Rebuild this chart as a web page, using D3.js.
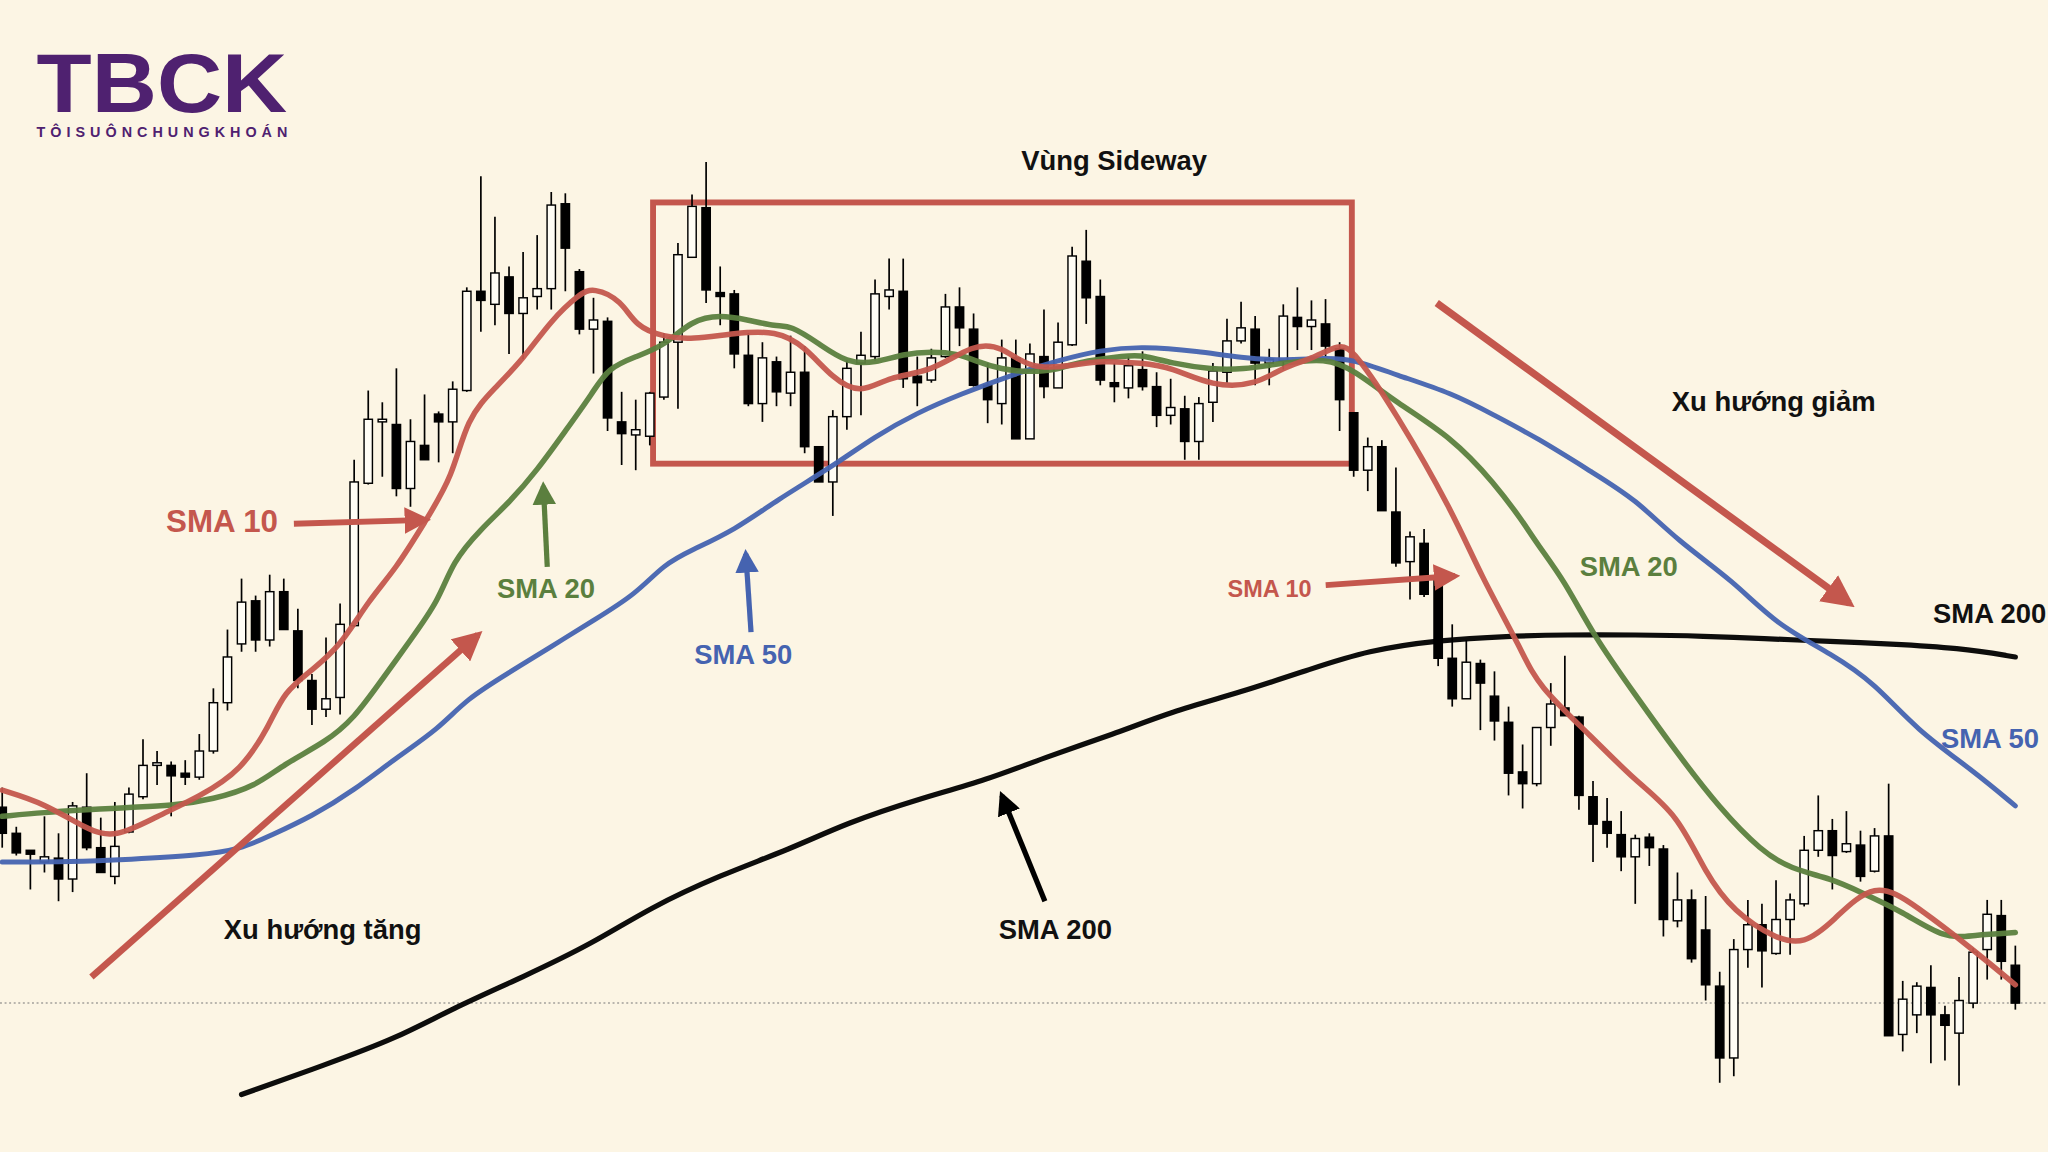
<!DOCTYPE html>
<html>
<head>
<meta charset="utf-8">
<script src="https://cdn.jsdelivr.net/npm/d3@7"></script>
<style>
  html, body { margin: 0; padding: 0; background: #fcf5e4; }
  svg { display: block; }
  text { font-family: "Liberation Sans", Arial, sans-serif; font-weight: bold; }
</style>
</head>
<body>
<script>
// candles: [open, high, low, close]
const candles = [
  [28.2,29.7,25.1,26.2],[26.2,26.7,24.5,24.7],[24.9,24.9,21.9,24.6],[24.0,27.5,23.2,24.4],
  [24.3,26.2,21.0,22.7],[22.7,28.6,21.7,28.3],[28.2,30.8,24.9,25.1],[25.1,27.4,23.2,23.2],
  [22.9,28.6,22.3,25.2],[26.3,29.7,26.2,29.2],[29.0,33.4,28.8,31.4],[31.4,32.5,29.9,31.6],
  [31.4,31.7,27.5,30.6],[30.8,31.8,29.9,30.5],[30.5,33.8,30.3,32.5],[32.5,37.3,32.3,36.2],
  [36.2,41.8,35.6,39.7],[40.7,45.7,40.1,43.9],[44.0,44.4,40.1,41.0],[41.0,46.0,40.5,44.7],
  [44.7,45.7,41.8,41.8],[41.7,43.4,37.3,37.9],[37.9,38.4,34.5,35.7],[35.7,41.2,35.1,36.5],
  [36.6,43.8,35.3,42.2],[42.1,54.8,42.0,53.1],[53.0,60.1,52.9,57.9],[57.7,59.2,53.5,57.9],
  [57.5,61.8,52.0,52.6],[52.6,57.9,51.2,56.2],[55.9,59.8,54.8,54.8],[58.3,58.5,54.6,57.7],
  [57.7,60.8,55.3,60.2],[60.1,68.0,60.0,67.7],[67.7,76.5,64.6,67.0],[66.7,73.4,65.1,69.1],
  [68.8,69.6,62.9,66.0],[66.0,70.7,62.5,67.2],[67.3,72.0,66.3,67.9],[67.9,75.3,66.3,74.3],
  [74.4,75.2,67.7,71.0],[69.2,69.4,64.4,64.8],[64.8,67.2,61.4,65.5],[65.4,65.7,57.0,58.0],
  [57.7,60.0,54.4,56.8],[56.7,59.4,54.0,57.1],[56.6,60.0,55.9,59.9],[59.6,64.5,59.4,63.8],
  [63.8,71.4,58.7,70.5],[70.3,75.1,70.3,74.2],[74.1,77.6,66.8,67.8],[67.6,69.6,65.1,67.3],
  [67.5,67.8,61.8,62.9],[62.8,64.5,58.9,59.1],[59.1,63.8,57.7,62.6],[62.3,62.7,58.9,60.0],
  [59.9,64.3,58.9,61.5],[61.5,63.5,55.3,55.8],[55.8,55.8,53.1,53.1],[53.1,58.6,50.5,58.1],
  [58.1,62.4,57.1,61.8],[62.2,64.6,58.2,62.8],[62.7,68.6,62.4,67.5],[67.3,70.2,66.3,67.8],
  [67.7,70.2,60.3,61.0],[61.2,62.7,58.9,60.7],[60.9,63.3,60.7,62.6],[62.7,67.5,62.6,66.5],
  [66.5,68.0,63.5,64.9],[64.8,66.0,60.4,60.5],[60.5,62.2,57.6,59.4],[59.1,64.0,57.5,62.6],
  [62.6,64.0,56.4,56.4],[56.4,63.7,56.4,62.9],[62.7,66.3,59.5,60.4],[60.3,65.3,60.3,63.8],
  [63.6,71.1,63.5,70.4],[70.0,72.4,65.2,67.2],[67.3,68.6,60.5,60.9],[60.7,62.2,59.2,60.4],
  [60.3,62.7,59.5,62.0],[61.7,63.1,60.1,60.4],[60.4,61.5,57.3,58.2],[58.2,61.0,57.5,58.8],
  [58.7,59.7,54.8,56.2],[56.2,59.6,54.8,59.1],[59.2,62.2,57.7,61.6],[61.5,65.6,60.7,63.9],
  [63.9,66.9,63.7,64.9],[64.8,65.8,60.5,62.2],[62.2,63.3,60.5,62.5],[62.4,66.7,61.7,65.8],
  [65.7,68.0,63.2,65.0],[65.0,67.0,63.2,65.5],[65.2,67.1,62.7,63.5],[63.3,63.8,57.0,59.4],
  [58.4,58.4,53.5,54.0],[54.0,56.5,52.4,55.8],[55.8,56.3,50.9,50.9],[50.8,54.2,46.6,46.9],
  [47.0,49.3,44.1,48.9],[48.4,49.5,44.3,44.5],[45.9,46.2,39.0,39.6],[39.6,42.2,35.9,36.5],
  [36.5,41.0,36.5,39.3],[39.2,39.5,34.1,37.7],[36.7,38.6,33.3,34.8],[34.7,35.9,29.1,30.8],
  [30.9,33.0,28.1,30.0],[30.0,34.3,29.8,34.3],[34.3,37.7,32.9,36.1],[35.8,39.8,35.2,35.2],
  [35.1,35.2,28.0,29.1],[29.0,30.2,24.0,26.9],[27.1,28.9,25.1,26.2],[26.1,27.9,23.3,24.4],
  [24.4,26.1,20.8,25.8],[25.9,26.2,23.7,25.1],[25.0,25.3,18.3,19.6],[19.5,23.2,19.0,21.1],
  [21.1,21.9,16.3,16.6],[18.8,21.4,13.4,14.6],[14.5,15.6,7.1,9.0],[9.0,18.1,7.6,17.3],
  [17.3,21.1,15.9,19.2],[19.2,20.8,14.4,17.2],[17.0,22.6,16.9,19.6],[19.6,21.6,16.9,21.1],
  [20.8,26.0,20.6,24.9],[24.9,29.1,24.4,26.4],[26.4,27.3,21.9,24.5],[24.8,27.9,24.7,25.4],
  [25.3,26.4,22.5,22.9],[23.3,26.6,23.2,26.0],[26.0,30.0,10.7,10.7],[10.8,14.9,9.5,13.5],
  [12.3,14.8,10.9,14.5],[14.4,16.1,8.6,12.3],[12.3,13.0,8.8,11.5],[10.9,15.2,6.9,13.4],
  [13.2,17.4,12.8,17.1],[17.3,21.1,15.0,20.0],[19.9,21.1,15.0,16.4],[16.1,17.6,12.7,13.2]
];

// moving averages: [candle index, value]
const sma10 = [[0,29.5],[3,28.5],[6,26.5],[8,25.8],[11,27.5],[14,29.0],[17,31.0],[19,34.5],[20,37.0],
  [22,38.7],[24,40.5],[26,44.0],[28,46.5],[30,50.0],[32,53.5],[33,58.0],[35,60.3],[37,62.5],[39,65.5],
  [41,67.5],[42,68.0],[44,67.0],[45,65.0],[47,64.2],[49,64.0],[52,64.5],[55,64.7],[57,63.5],[59,61.0],
  [61,59.8],[63,61.2],[66,61.5],[69,63.7],[71,63.5],[73,61.7],[76,62.0],[78,62.4],[81,62.2],[83,61.9],
  [86,60.4],[89,60.5],[91,61.9],[93,62.5],[95,63.7],[96,63.2],[99,58.4],[103,50.9],[105,46.0],[108,40.1],
  [109,37.6],[113,33.5],[116,30.2],[119,27.7],[121,23.1],[123,20.2],[126,18.1],[128,17.7],[130,19.4],
  [133,22.7],[136,20.6],[140,17.3],[143,14.6]];
const sma20 = [[0,27.5],[3,27.8],[6,28.0],[9,28.2],[12,28.3],[15,28.8],[18,29.8],[20,31.5],[23,33.2],
  [25,35.0],[27,38.0],[29,41.0],[31,44.0],[32,47.0],[34,49.5],[36,51.5],[38,54.0],[40,57.0],[42,60.0],
  [43,61.8],[45,62.7],[47,63.5],[49,65.5],[51,65.9],[53,65.5],[55,65.0],[56,65.1],[58,63.7],[60,62.2],
  [62,62.2],[64,62.9],[66,63.1],[68,62.9],[69,62.4],[71,61.7],[73,61.5],[75,61.7],[76,62.2],[80,62.8],
  [81,62.8],[83,62.2],[86,61.7],[88,61.7],[91,62.2],[94,62.6],[96,61.7],[99,59.2],[103,56.5],[106,53.0],
  [108,50.1],[109,48.4],[111,45.5],[113,41.4],[116,36.8],[119,32.3],[122,28.1],[125,24.8],[127,23.5],
  [130,22.7],[132,21.7],[135,20.2],[138,18.1],[140,18.4],[143,18.6]];
const sma50 = [[0,24.0],[5,24.0],[9,24.2],[14,24.5],[17,25.0],[19,26.0],[22,27.5],[25,29.5],[28,32.0],
  [31,34.2],[33,36.5],[36,38.5],[39,40.5],[42,42.5],[45,44.5],[47,46.8],[49,47.9],[52,49.4],[55,51.7],
  [59,54.3],[62,56.6],[65,58.4],[68,59.8],[72,61.4],[75,62.4],[78,63.2],[81,63.5],[85,63.1],[88,62.6],
  [91,62.4],[94,62.6],[96,62.5],[99,61.3],[103,59.9],[106,58.2],[109,56.5],[113,53.8],[116,51.8],
  [119,48.6],[123,45.5],[126,42.2],[130,39.9],[133,37.7],[136,34.1],[140,31.0],[143,28.3]];
const sma200 = [[17,6.2],[23,8.5],[28,10.5],[32,12.8],[37,15.2],[42,17.8],[46,20.5],[51,23.0],[56,25.0],
  [60,27.0],[65,28.8],[70,30.3],[74,32.0],[79,33.8],[83,35.5],[88,37.0],[93,38.8],[97,40.2],[102,41.0],
  [107,41.3],[111,41.4],[116,41.4],[121,41.3],[125,41.1],[130,40.9],[134,40.7],[139,40.4],[143,39.7]];
const refLevel = 13.2;

const W = 1568, H = 882;
const RED = "#c4574d", GREEN = "#5b7f3e", BLUE = "#4563b0", BLACK = "#000";

const svg = d3.select("body").append("svg")
  .attr("width", 2048).attr("height", 1152)
  .attr("viewBox", `0 0 ${W} ${H}`);

svg.append("rect").attr("width", W).attr("height", H).attr("fill", "#fcf5e4");

const defs = svg.append("defs");
[["red", RED], ["green", GREEN], ["blue", BLUE], ["black", BLACK]].forEach(([id, c]) => {
  defs.append("marker").attr("id", "ah-" + id)
    .attr("viewBox", "0 0 10 10").attr("refX", 8).attr("refY", 5)
    .attr("markerWidth", 4.5).attr("markerHeight", 4.5).attr("orient", "auto")
    .attr("markerUnits", "strokeWidth")
    .append("path").attr("d", "M0,0 L10,5 L0,10 z").attr("fill", c);
});

const x = d3.scaleLinear().domain([0, candles.length - 1]).range([1.7, 1543]);
const y = d3.scaleLinear().domain([0, 90]).range([900, 0]);

// reference dotted line
svg.append("line").attr("x1", 0).attr("x2", W)
  .attr("y1", y(refLevel)).attr("y2", y(refLevel))
  .attr("stroke", "#777").attr("stroke-width", 0.8).attr("stroke-dasharray", "1.5,2");

// sideway box
svg.append("rect").attr("x", 500).attr("y", 155).attr("width", 535).attr("height", 200)
  .attr("fill", "none").attr("stroke", RED).attr("stroke-width", 4.5);

// candles
const cg = svg.append("g");
const bw = 6.4;
candles.forEach((d, i) => {
  const [o, h, l, c] = d;
  const cx = x(i);
  cg.append("line").attr("x1", cx).attr("x2", cx).attr("y1", y(h)).attr("y2", y(l))
    .attr("stroke", "#000").attr("stroke-width", 1.3);
  const top = y(Math.max(o, c)), bot = y(Math.min(o, c));
  cg.append("rect").attr("x", cx - bw / 2).attr("y", top)
    .attr("width", bw).attr("height", Math.max(1.8, bot - top))
    .attr("fill", c >= o ? "#fffdf5" : "#000").attr("stroke", "#000").attr("stroke-width", 1.1);
});

// moving averages
const line = d3.line().x(d => x(d[0])).y(d => y(d[1])).curve(d3.curveBasis);
[[sma200, BLACK, 4], [sma50, BLUE, 3.8], [sma20, GREEN, 4.2], [sma10, RED, 4.2]].forEach(([s, c, w]) => {
  svg.append("path").datum(s).attr("d", line)
    .attr("fill", "none").attr("stroke", c).attr("stroke-width", w)
    .attr("stroke-linecap", "round").attr("stroke-opacity", 0.95);
});

// arrows
const arrows = [
  [225, 401, 326, 398, "red", 4.5],
  [419, 434, 416, 372, "green", 4],
  [575, 484, 571, 424, "blue", 4],
  [800, 690, 767, 609, "black", 4],
  [70, 748, 366, 486, "red", 5],
  [1015, 448, 1114, 441, "red", 4.5],
  [1100, 232, 1416, 462, "red", 5.5]
];
arrows.forEach(([x1, y1, x2, y2, col, w]) => {
  svg.append("line").attr("x1", x1).attr("y1", y1).attr("x2", x2).attr("y2", y2)
    .attr("stroke", col === "red" ? RED : col === "green" ? GREEN : col === "blue" ? BLUE : BLACK)
    .attr("stroke-width", w).attr("marker-end", `url(#ah-${col})`);
});

// labels
const labels = [
  ["Vùng Sideway", 853, 130, 21, "#111", "middle"],
  ["Xu hướng giảm", 1358, 315, 21, "#111", "middle"],
  ["Xu hướng tăng", 247, 719, 21, "#111", "middle"],
  ["SMA 200", 808, 719, 21, "#111", "middle"],
  ["SMA 10", 170, 407, 24, RED, "middle"],
  ["SMA 20", 418, 458, 21, GREEN, "middle"],
  ["SMA 50", 569, 508, 21, BLUE, "middle"],
  ["SMA 10", 972, 457, 18, RED, "middle"],
  ["SMA 20", 1247, 441, 21, GREEN, "middle"],
  ["SMA 200", 1480, 477, 21, "#111", "start"],
  ["SMA 50", 1486, 573, 21, BLUE, "start"]
];
labels.forEach(([t, lx, ly, fs, col, anchor]) => {
  svg.append("text").attr("x", lx).attr("y", ly).attr("font-size", fs)
    .attr("fill", col).attr("text-anchor", anchor).text(t);
});

// logo
svg.append("text").attr("x", 28).attr("y", 86).attr("font-size", 64)
  .attr("fill", "#4f2170").attr("font-family", "'DejaVu Sans', sans-serif")
  .attr("textLength", 192).attr("lengthAdjust", "spacingAndGlyphs")
  .text("TBCK");
svg.append("text").attr("x", 28).attr("y", 105).attr("font-size", 11)
  .attr("fill", "#4f2170").attr("font-weight", "normal")
  .attr("font-family", "'DejaVu Sans', sans-serif")
  .attr("textLength", 192).attr("lengthAdjust", "spacing")
  .text("TÔISUÔNCHUNGKHOÁN");
</script>
</body>
</html>
